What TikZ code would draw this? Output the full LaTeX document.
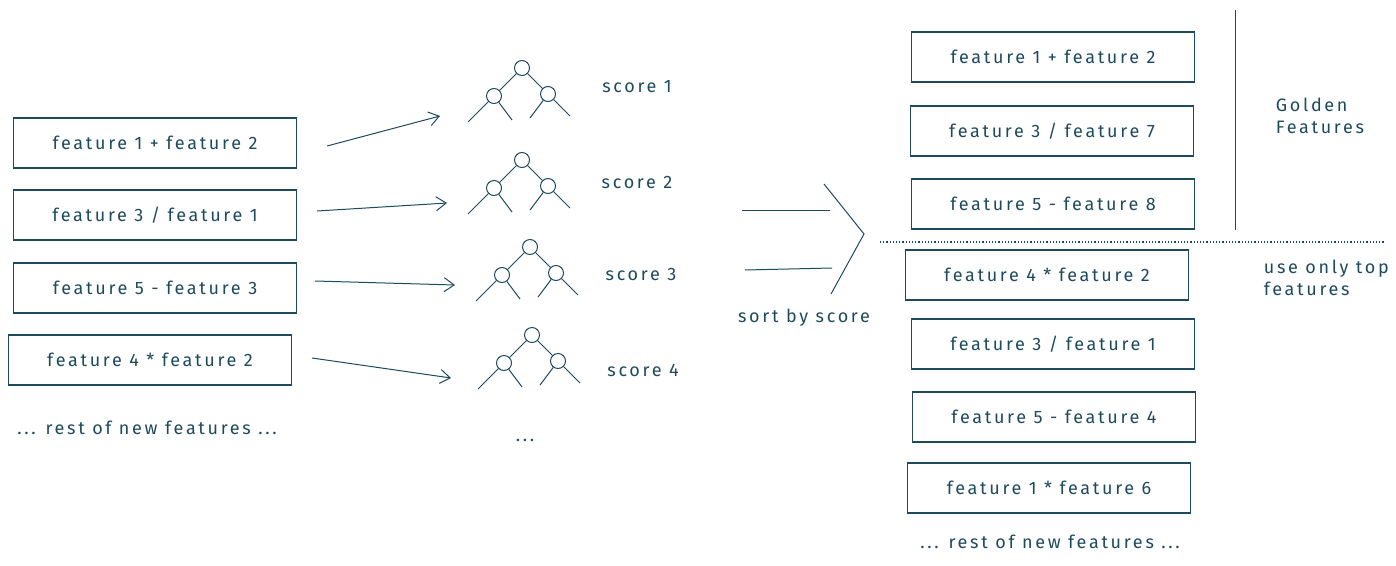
\documentclass[tikz,border=0pt]{standalone}
\usepackage{fontspec}
\setmainfont{Fira Sans}[LetterSpace=15]
\usetikzlibrary{arrows.meta}
\definecolor{ink}{HTML}{1E4A5E}
\begin{document}
\begin{tikzpicture}[x=1pt,y=-1pt,line width=1pt,draw=ink,text=ink,
  box/.style={draw=ink,line width=1.1pt,minimum width=283pt,minimum height=50pt,font=\fontsize{18}{21}\selectfont},
  lbl/.style={font=\fontsize{18}{22}\selectfont,text=ink},
  arr/.style={draw=ink,-{Straight Barb[length=10pt,width=14pt]}},
  tn/.style={circle,draw=ink,minimum size=15pt,inner sep=0pt}]
\useasboundingbox (0,0) rectangle (1396,565);
\node[box] (l1) at (155,143) {feature 1 + feature 2};
\node[box] (l2) at (155,215) {feature 3 / feature 1};
\node[box] (l3) at (155,288) {feature 5 - feature 3};
\node[box] (l4) at (150,360) {feature 4 * feature 2};
\node[lbl] (lr) at (147,428) {... rest of new features ...};
\newcommand\mytree[3]{%
 \node[tn] (#1r) at (#2,#3) {};
 \node[tn] (#1a) at (#2-28,#3+28) {};
 \node[tn] (#1b) at (#2+26,#3+26) {};
 \draw (#1r) -- (#1a); \draw (#1r) -- (#1b);
 \coordinate (#1a1) at (#2-54,#3+54); \coordinate (#1a2) at (#2-10,#3+52);
 \coordinate (#1b1) at (#2+8,#3+50); \coordinate (#1b2) at (#2+48,#3+48);
 \draw (#1a) -- (#1a1); \draw (#1a) -- (#1a2);
 \draw (#1b) -- (#1b1); \draw (#1b) -- (#1b2);}
\mytree{t1}{522}{68}
\mytree{t2}{522}{160}
\mytree{t3}{530}{247}
\mytree{t4}{532}{335}
\coordinate (e1) at (440,116); \coordinate (e2) at (447,203);
\coordinate (e3) at (455,285); \coordinate (e4) at (451,378);
\draw[arr] ([xshift=30pt,yshift=-3pt]l1.east) -- (e1);
\draw[arr] ([xshift=20pt,yshift=4pt]l2.east) -- (e2);
\draw[arr] ([xshift=18pt,yshift=7pt]l3.east) -- (e3);
\draw[arr] ([xshift=20pt,yshift=2pt]l4.east) -- (e4);
\node[lbl] (s1) at (637,87) {score 1};
\node[lbl] (s2) at (637,182) {score 2};
\node[lbl] (s3) at (641,274) {score 3};
\node[lbl] (s4) at (643,370) {score 4};
\node[lbl] (dots) at (525,440) {...};
\coordinate (p1) at (742,210); \coordinate (p2) at (830,210);
\coordinate (q1) at (745,270); \coordinate (q2) at (832,268);
\coordinate (c1) at (824,184); \coordinate (c2) at (864,234); \coordinate (c3) at (831,294);
\draw (p1) -- (p2); \draw (q1) -- (q2); \draw (c1) -- (c2) -- (c3);
\node[lbl] (sort) at (804,318) {sort by score};
\node[box] (r1) at (1053,57) {feature 1 + feature 2};
\node[box] (r2) at (1052,131) {feature 3 / feature 7};
\node[box] (r3) at (1053,204) {feature 5 - feature 8};
\node[box] (r4) at (1047,275) {feature 4 * feature 2};
\node[box] (r5) at (1053,344) {feature 3 / feature 1};
\node[box] (r6) at (1054,417) {feature 5 - feature 4};
\node[box] (r7) at (1049,488) {feature 1 * feature 6};
\node[lbl] (rr) at (1050,542) {... rest of new features ...};
\coordinate (d1) at (880,242); \coordinate (d2) at (1385,242);
\draw[dotted,line width=1.2pt] (d1) -- (d2);
\coordinate (v1) at (1235,10); \coordinate (v2) at (1235,230);
\draw (v1) -- (v2);
\node[lbl,anchor=west,align=left] (gf) at (1272,116) {Golden\\Features};
\node[lbl,anchor=west,align=left] (ut) at (1260,278) {use only top\\features};
\end{tikzpicture}
\end{document}
